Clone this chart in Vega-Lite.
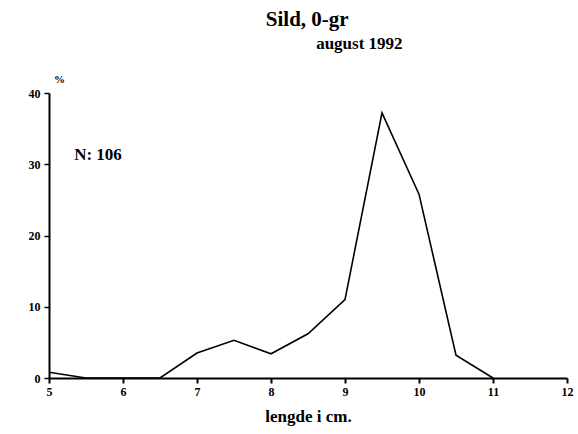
{
  "$schema": "https://vega.github.io/schema/vega-lite/v6.json",
  "width": 518,
  "height": 285,
  "autosize": {"type": "none"},
  "padding": {"left": 49, "top": 93, "right": 11, "bottom": 56},
  "background": "white",
  "config": {"view": {"stroke": null}, "font": "Liberation Serif"},
  "datasets": {
    "dist": [
      {"len": 5, "pct": 0.8},
      {"len": 5.5, "pct": 0},
      {"len": 6, "pct": 0},
      {"len": 6.5, "pct": 0},
      {"len": 7, "pct": 3.5},
      {"len": 7.5, "pct": 5.3},
      {"len": 8, "pct": 3.4},
      {"len": 8.5, "pct": 6.2},
      {"len": 9, "pct": 11},
      {"len": 9.5, "pct": 37.2},
      {"len": 10, "pct": 25.8},
      {"len": 10.5, "pct": 3.2},
      {"len": 11, "pct": 0}
    ],
    "title": [{"len": 7.93, "pct": 50.3, "txt": "Sild, 0-gr"}],
    "subtitle": [{"len": 8.61, "pct": 46.9, "txt": "august 1992"}],
    "note": [{"len": 5.34, "pct": 31.3, "txt": "N: 106"}]
  },
  "layer": [
    {
      "data": {"name": "dist"},
      "mark": {"type": "line", "color": "black", "strokeWidth": 1.6},
      "encoding": {
        "x": {
          "field": "len", "type": "quantitative",
          "scale": {"domain": [5, 12], "nice": false, "zero": false},
          "axis": {
            "values": [5, 5.5, 6, 6.5, 7, 7.5, 8, 8.5, 9, 9.5, 10, 10.5, 11, 11.5, 12],
            "format": "d",
            "labelExpr": "datum.value % 1 == 0 ? datum.label : ''",
            "grid": false,
            "domainColor": "black", "domainWidth": 2,
            "tickColor": "black", "tickWidth": 2, "tickSize": 5,
            "labelFont": "Liberation Serif", "labelFontWeight": "bold", "labelFontSize": 12,
            "labelColor": "black", "labelPadding": 3, "labelFlush": false,
            "title": "lengde i cm.",
            "titleFont": "Liberation Serif", "titleFontWeight": "bold", "titleFontSize": 17,
            "titleColor": "black", "titlePadding": 11
          }
        },
        "y": {
          "field": "pct", "type": "quantitative",
          "scale": {"domain": [0, 40], "nice": false},
          "axis": {
            "values": [0, 10, 20, 30, 40],
            "grid": false,
            "domainColor": "black", "domainWidth": 2,
            "tickColor": "black", "tickWidth": 1.5, "tickSize": 5,
            "labelFont": "Liberation Serif", "labelFontWeight": "bold", "labelFontSize": 12,
            "labelColor": "black", "labelPadding": 4, "labelFlush": false,
            "title": "%",
            "titleAngle": 0, "titleX": 10, "titleY": -11,
            "titleAlign": "center", "titleBaseline": "alphabetic",
            "titleFont": "Liberation Serif", "titleFontWeight": "bold", "titleFontSize": 11,
            "titleColor": "black"
          }
        }
      }
    },
    {
      "data": {"name": "title"},
      "mark": {"type": "text", "align": "left", "baseline": "middle", "color": "black", "font": "Liberation Serif", "fontSize": 21, "fontWeight": "bold"},
      "encoding": {
        "x": {"field": "len", "type": "quantitative"},
        "y": {"field": "pct", "type": "quantitative"},
        "text": {"field": "txt"}
      }
    },
    {
      "data": {"name": "subtitle"},
      "mark": {"type": "text", "align": "left", "baseline": "middle", "color": "black", "font": "Liberation Serif", "fontSize": 17, "fontWeight": "bold"},
      "encoding": {
        "x": {"field": "len", "type": "quantitative"},
        "y": {"field": "pct", "type": "quantitative"},
        "text": {"field": "txt"}
      }
    },
    {
      "data": {"name": "note"},
      "mark": {"type": "text", "align": "left", "baseline": "middle", "color": "black", "font": "Liberation Serif", "fontSize": 17, "fontWeight": "bold"},
      "encoding": {
        "x": {"field": "len", "type": "quantitative"},
        "y": {"field": "pct", "type": "quantitative"},
        "text": {"field": "txt"}
      }
    }
  ]
}
